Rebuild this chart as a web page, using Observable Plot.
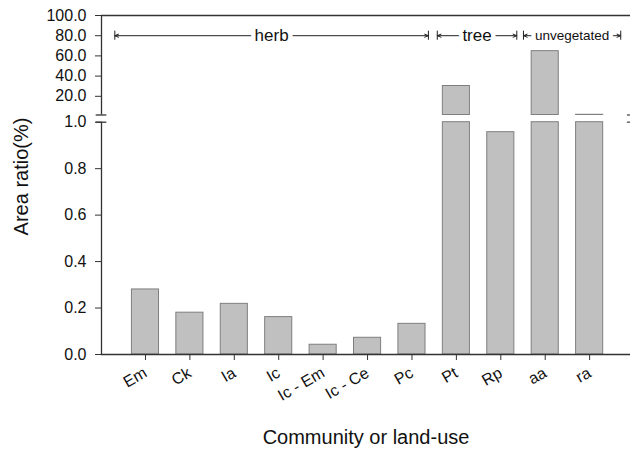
<!DOCTYPE html>
<html><head><meta charset="utf-8">
<script src="https://cdn.jsdelivr.net/npm/d3@7"></script>
<script src="https://cdn.jsdelivr.net/npm/@observablehq/plot@0.6"></script>
<style>
body{margin:0;background:#fff;}
#chart svg{font-family:"Liberation Sans", Arial, sans-serif; display:block;}
</style>
</head><body><div id="chart"></div>
<script>
// ---- data ----
const categories = ["Em","Ck","Ia","Ic","Ic - Em","Ic - Ce","Pc","Pt","Rp","aa","ra"];
const values = [0.28, 0.18, 0.218, 0.161, 0.042, 0.072, 0.132, 30.2, 0.957, 64.7, 1.7];
const yTicksLow = [0, 0.2, 0.4, 0.6, 0.8, 1.0];
const yTicksHigh = [20, 40, 60, 80, 100];
const groupNames = ["herb", "tree", "unvegetated"];
const groupStart = [-0.69, 6.57, 8.51];
const groupEnd = [6.37, 8.36, 10.7];
const groupFont = [17, 17, 13.5];
const breakLow = 1.0, breakHigh = 1.5, yMax = 100;
const xDomain = [-0.99, 10.92];

// ---- derived tables ----
const lower = categories.map((c, i) => ({i, y1: 0, y2: Math.min(values[i], breakLow)}));
const upper = categories.map((c, i) => ({i, y1: breakHigh, y2: values[i]})).filter(d => d.y2 > breakLow);
const groups = groupNames.map((g, k) => ({name: g, s: groupStart[k], e: groupEnd[k], m: (groupStart[k] + groupEnd[k]) / 2, fs: groupFont[k]}));
const half = 0.305;
const axisColor = "#333";

const chart = Plot.plot({
  width: 631,
  height: 452,
  marginLeft: 101,
  marginRight: 1,
  marginTop: 15,
  marginBottom: 98,
  style: {fontFamily: "'Liberation Sans', Arial, sans-serif", background: "white"},
  x: {type: "linear", domain: xDomain},
  y: {type: "linear", domain: [0, breakLow, breakHigh, yMax], range: [354, 121.7, 114.5, 15]},
  marks: [
    // bars (lower and upper panel)
    Plot.rect(lower, {x1: d => d.i - half, x2: d => d.i + half, y1: "y1", y2: "y2", fill: "#c0c0c0", stroke: "#7f7f7f", strokeWidth: 1}),
    Plot.rect(upper, {x1: d => d.i - half, x2: d => d.i + half, y1: "y1", y2: "y2", fill: "#c0c0c0", stroke: "#7f7f7f", strokeWidth: 1}),
    // frame lines
    Plot.ruleY([0], {stroke: axisColor, strokeWidth: 1.3}),
    Plot.ruleY([yMax], {stroke: axisColor, strokeWidth: 1.5}),
    Plot.ruleX([{y1: 0, y2: breakLow}, {y1: breakHigh, y2: yMax}], {x: () => xDomain[0], y1: "y1", y2: "y2", stroke: axisColor, strokeWidth: 1.3}),
    // break marks
    Plot.ruleY([breakLow, breakHigh], {x1: xDomain[0] - 0.12, x2: xDomain[0] + 0.12, stroke: axisColor, strokeWidth: 1.3}),
    Plot.ruleY([breakLow, breakHigh], {x1: xDomain[1] - 0.07, x2: xDomain[1], stroke: "#666", strokeWidth: 1.5}),
    // axes
    Plot.axisY({ticks: [...yTicksLow, ...yTicksHigh], tickFormat: d => d.toFixed(1), tickSize: 6, tickPadding: 9, fontSize: 16, label: null, stroke: axisColor, color: "#111"}),
    Plot.axisX({ticks: d3.range(categories.length), tickFormat: i => categories[i], tickRotate: -30, tickSize: 6, tickPadding: 11, fontSize: 16, label: null, stroke: axisColor, color: "#111"}),
    // group annotations
    Plot.arrow(groups, {x1: "m", x2: "s", y1: 80, y2: 80, headLength: 6, headAngle: 45, stroke: "#222", strokeWidth: 1}),
    Plot.arrow(groups, {x1: "m", x2: "e", y1: 80, y2: 80, headLength: 6, headAngle: 45, stroke: "#222", strokeWidth: 1}),
    Plot.ruleX(groups, {x: "s", y1: 75.5, y2: 84.5, stroke: "#222", strokeWidth: 1}),
    Plot.ruleX(groups, {x: "e", y1: 75.5, y2: 84.5, stroke: "#222", strokeWidth: 1}),
    Plot.text(groups, {x: "m", y: 80, text: "name", fontSize: "fs", fill: "#111", stroke: "white", strokeWidth: 9}),
    // axis titles
    Plot.text(["Community or land-use"], {frameAnchor: "bottom", dy: 89, fontSize: 20, fill: "#111"}),
    Plot.text(["Area ratio(%)"], {frameAnchor: "left", textAnchor: "middle", rotate: -90, dx: -80, dy: -8.5, fontSize: 20, fill: "#111"})
  ]
});
document.getElementById("chart").appendChild(chart);
</script>
</body></html>
